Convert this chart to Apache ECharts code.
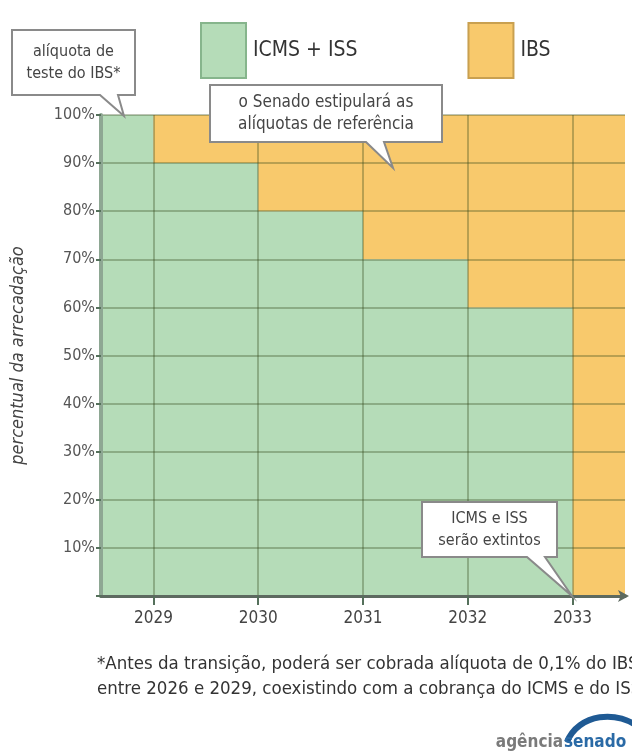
<!DOCTYPE html>
<html>
<head>
<meta charset="utf-8">
<script src="https://cdn.jsdelivr.net/npm/echarts@6/dist/echarts.min.js"></script>
<style>
html,body{margin:0;padding:0;background:#fff;}
#chart{width:632px;height:751px;}
</style>
</head>
<body>
<div id="chart"></div>
<script>
// Half-year steps on the time axis (ticks/labels only on whole years)
const xCats = ['2028.5','2029','2029.5','2030','2030.5','2031','2031.5','2032','2032.5','2033','2033.5'];
// Share of revenue (%) — value holds until the next point
const icmsIss = [100, 90, 90, 80, 80, 70, 70, 60, 60, 0, 0];
const ibs     = [0, 10, 10, 20, 20, 30, 30, 40, 40, 100, 100];
const yTicks = [0, 10, 20, 30, 40, 50, 60, 70, 80, 90, 100];

const FONT = "'Liberation Sans Narrow', 'DejaVu Sans Condensed', 'Liberation Sans', sans-serif";
const GREEN = '#b5dcb8';
const ORANGE = '#f8c96c';
const GRIDC = 'rgba(50,72,25,0.32)';

const isYear = (i, v) => Number.isInteger(Number(v));

const chart = echarts.init(document.getElementById('chart'), null, {renderer: 'canvas'});

function callout(box, wedge, lines, fs) {
  const [x0, y0, x1, y1] = box;
  const [wa, wb, tx, ty] = wedge;
  return [
    {
      type: 'polygon', z: 100,
      shape: {points: [[x0,y0],[x1,y0],[x1,y1],[wb,y1],[tx,ty],[wa,y1],[x0,y1]]},
      style: {fill: '#ffffff', stroke: '#8a8a8a', lineWidth: 2}
    },
    {
      type: 'text', z: 101,
      x: (x0 + x1) / 2, y: (y0 + y1) / 2,
      style: {
        text: lines.join('\n'), fill: '#454545', font: (fs || 16) + 'px ' + FONT,
        align: 'center', verticalAlign: 'middle', lineHeight: 22
      }
    }
  ];
}

const option = {
  animation: false,
  backgroundColor: '#ffffff',
  grid: {left: 101, right: 7, top: 115, bottom: 155, containLabel: false},
  legend: {
    left: 195, top: 17,
    itemWidth: 45, itemHeight: 55, itemGap: 110,
    icon: 'rect',
    textStyle: {fontFamily: FONT, fontSize: 21, color: '#333', padding: [0, 0, 0, 2]},
    data: [
      {name: 'ICMS + ISS', itemStyle: {color: GREEN, borderColor: '#86b58c', borderWidth: 2}},
      {name: 'IBS', itemStyle: {color: ORANGE, borderColor: '#c9a050', borderWidth: 2}}
    ]
  },
  xAxis: {
    type: 'category',
    data: xCats,
    boundaryGap: false,
    z: 5,
    axisLine: {show: true, symbol: ['none', 'arrow'], symbolSize: [9, 11], symbolOffset: [0, 4],
      lineStyle: {color: '#5d6a60', width: 3}},
    axisTick: {show: true, interval: isYear, length: 9, lineStyle: {color: '#55705b', width: 2}},
    axisLabel: {interval: isYear, margin: 14, fontFamily: FONT, fontSize: 17, color: '#444',
      formatter: v => String(v)},
    splitLine: {show: true, interval: isYear, lineStyle: {color: GRIDC, width: 2}}
  },
  yAxis: {
    type: 'value', min: 0, max: 100, interval: 10,
    z: 5,
    name: 'percentual da arrecadação',
    nameLocation: 'middle', nameGap: 74,
    nameTextStyle: {fontFamily: FONT, fontStyle: 'italic', fontSize: 18, color: '#444'},
    axisLine: {show: true, lineStyle: {color: '#8ea793', width: 4}},
    axisTick: {show: true, length: 5, lineStyle: {color: '#55705b', width: 2}},
    axisLabel: {margin: 6, fontFamily: FONT, fontSize: 16, color: '#555',
      formatter: v => v === 0 ? '' : v + '%'},
    splitLine: {show: true, lineStyle: {color: GRIDC, width: 2}}
  },
  series: [
    {
      name: 'ICMS + ISS', type: 'line', stack: 'total', step: 'end',
      data: icmsIss, symbol: 'none', z: 2,
      itemStyle: {color: GREEN},
      lineStyle: {width: 0},
      areaStyle: {color: GREEN, opacity: 1}
    },
    {
      name: 'IBS', type: 'line', stack: 'total', step: 'end',
      data: ibs, symbol: 'none', z: 2,
      itemStyle: {color: ORANGE},
      lineStyle: {width: 0},
      areaStyle: {color: ORANGE, opacity: 1}
    }
  ],
  graphic: [].concat(
    callout([12, 30, 135, 95], [100, 118, 124, 116], ['alíquota de', 'teste do IBS*'], 16),
    callout([210, 85, 442, 142], [366, 384, 393, 168], ['o Senado estipulará as', 'alíquotas de referência'], 17),
    callout([422, 502, 557, 557], [527, 545, 572, 596], ['ICMS e ISS', 'serão extintos'], 16),
    [
      {
        type: 'text', z: 50, x: 97, y: 652,
        style: {
          text: '*Antes da transição, poderá ser cobrada alíquota de 0,1% do IBS\nentre 2026 e 2029, coexistindo com a cobrança do ICMS e do ISS',
          fill: '#333', font: '18.5px ' + FONT, lineHeight: 25
        }
      },
      {
        type: 'bezierCurve', z: 50,
        shape: {x1: 567, y1: 742, x2: 642, y2: 730, cpx1: 578, cpy1: 714, cpx2: 618, cpy2: 708},
        style: {stroke: '#1f5a94', lineWidth: 6, fill: null}
      },
      {
        type: 'text', z: 51, x: 563, y: 743,
        style: {text: 'agência', fill: '#7a7a7a', font: 'bold 17px ' + FONT, align: 'right', verticalAlign: 'middle'}
      },
      {
        type: 'text', z: 51, x: 564, y: 743,
        style: {text: 'senado', fill: '#2a6aa6', font: 'bold 17px ' + FONT, align: 'left', verticalAlign: 'middle'}
      }
    ]
  )
};

chart.setOption(option);
</script>
</body>
</html>
